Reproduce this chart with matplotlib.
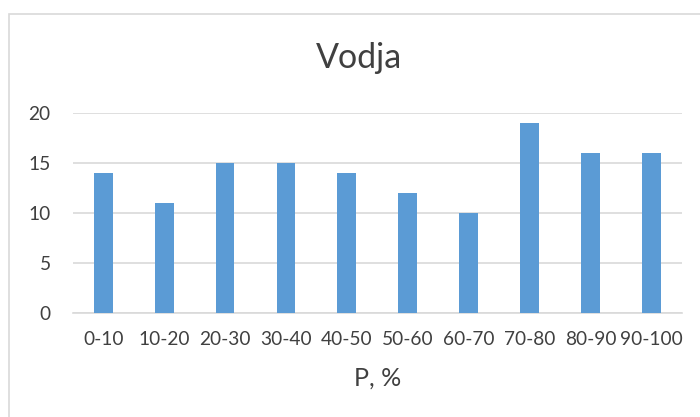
import matplotlib.pyplot as plt
from matplotlib.patches import Rectangle

categories = ['0-10', '10-20', '20-30', '30-40', '40-50',
              '50-60', '60-70', '70-80', '80-90', '90-100']
values = [14, 11, 15, 15, 14, 12, 10, 19, 16, 16]
yticks = [0, 5, 10, 15, 20]

plt.rcParams['font.family'] = ['Lato', 'DejaVu Sans']
text_color = '#404040'
grid_color = '#d9d9d9'
bar_color = '#5b9bd5'

fig = plt.figure(figsize=(7, 4.17), dpi=100)
ax = fig.add_axes([0.104, 0.249, 0.870, 0.480])

x = range(len(categories))
ax.bar(x, values, width=0.31, color=bar_color, zorder=3)

ax.set_xlim(-0.5, len(categories) - 0.5)
ax.set_ylim(0, 20)
ax.set_yticks(yticks)
ax.set_xticks(list(x))
ax.set_xticklabels(categories)
ax.tick_params(length=0, labelsize=13.8, colors=text_color)
ax.tick_params(axis='x', pad=13)
ax.tick_params(axis='y', pad=16)
ax.grid(axis='y', color=grid_color, linewidth=1.2, zorder=0)
for s in ['top', 'right', 'left']:
    ax.spines[s].set_visible(False)
ax.spines['bottom'].set_color(grid_color)
ax.spines['bottom'].set_linewidth(1.2)

fig.text(359 / 700, 1 - 68 / 417, 'Vodja', fontsize=24.5, color=text_color,
         ha='center', va='baseline')
fig.text(377.5 / 700, 1 - 386 / 417, 'P, %', fontsize=18, color=text_color,
         ha='center', va='baseline')

# outer chart border (cut off on the right and bottom)
fig.patches.append(Rectangle((9 / 700, -0.1), 1.2, 0.966 + 0.1,
                             transform=fig.transFigure, fill=False,
                             edgecolor=grid_color, linewidth=1.2))

fig.savefig('out.png', dpi=100)
